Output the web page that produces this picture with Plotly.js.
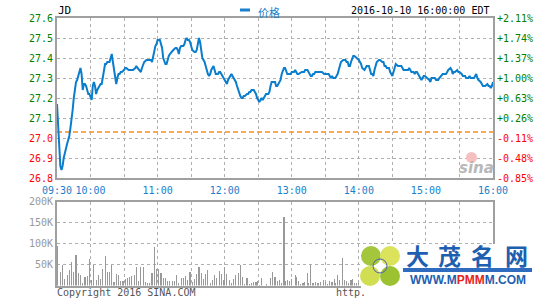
<!DOCTYPE html>
<html>
<head>
<meta charset="utf-8">
<script src="https://cdn.plot.ly/plotly-3.0.1.min.js"></script>
<style>html,body{margin:0;padding:0;background:#fff;}#chart{width:545px;height:300px;}</style>
</head>
<body>
<div id="chart"></div>
<script>
// ---- data (JD, 2016-10-10, minutes after the 09:30 open) ----
const tradeDate = "2016-10-10";
const prevClose = 27.03;

const priceMinutes = [0,1,2,3,4,5,6,7,8,9,10,11,12,13,14,15,16,17,18,19,20,21,22,23,24,25,26,27,28,29,30,31,32,33,34,35,36,37,38,39,40,41,42,43,44,45,47,48,49,50,51,52,53,54,55,56,57,58,60,61,62,64,65,67,68,70,71,72,74,75,76,77,78,80,81,83,84,85,86,87,88,89,90,92,93,94,95,96,97,98,99,100,101,103,104,106,107,108,109,110,111,113,114,115,116,117,118,119,120,121,123,124,125,126,127,128,129,130,131,132,133,134,135,136,137,138,139,140,141,142,143,144,145,146,147,148,149,150,151,152,153,154,155,156,157,158,159,160,161,162,163,164,165,166,167,168,170,171,172,173,174,176,177,178,179,180,181,182,183,184,185,186,187,189,190,191,192,193,194,195,196,197,198,199,200,201,202,203,204,205,206,208,209,210,212,213,214,215,216,218,219,220,221,222,224,225,226,227,228,229,230,231,233,234,236,237,239,240,242,243,244,245,246,247,248,249,250,251,252,253,254,256,257,258,259,260,261,262,263,264,265,266,268,269,270,271,272,273,275,276,277,278,279,280,281,282,283,284,285,286,288,289,291,292,293,294,295,297,298,299,300,301,302,303,305,306,308,309,310,311,313,314,315,316,317,319,320,321,322,323,325,326,327,328,329,331,332,333,334,335,336,338,339,341,342,344,345,347,348,349,350,352,353,354,355,356,358,359,360,362,363,365,366,368,369,370,371,373,374,375,376,377,379,380,381,382,383,385,386,387,388,389,390];
const prices = [27.17,27.05,26.92,26.86,26.84,26.86,26.90,26.93,26.95,26.97,26.99,27.01,27.05,27.09,27.14,27.20,27.25,27.28,27.29,27.31,27.34,27.35,27.32,27.24,27.27,27.27,27.26,27.23,27.22,27.22,27.20,27.19,27.26,27.28,27.26,27.22,27.24,27.25,27.26,27.27,27.27,27.31,27.35,27.37,27.37,27.38,27.38,27.40,27.42,27.38,27.34,27.30,27.27,27.30,27.32,27.32,27.33,27.33,27.34,27.35,27.35,27.34,27.34,27.34,27.34,27.35,27.36,27.35,27.34,27.33,27.35,27.37,27.38,27.39,27.39,27.39,27.39,27.38,27.41,27.44,27.46,27.47,27.49,27.49,27.47,27.45,27.40,27.38,27.37,27.37,27.40,27.41,27.42,27.43,27.44,27.45,27.45,27.44,27.42,27.45,27.46,27.46,27.47,27.49,27.50,27.49,27.49,27.48,27.46,27.44,27.43,27.43,27.44,27.47,27.50,27.48,27.43,27.40,27.39,27.38,27.36,27.33,27.32,27.31,27.32,27.34,27.35,27.36,27.34,27.32,27.32,27.32,27.33,27.33,27.32,27.31,27.30,27.29,27.28,27.27,27.29,27.30,27.31,27.32,27.31,27.30,27.29,27.28,27.26,27.24,27.22,27.21,27.20,27.20,27.21,27.21,27.22,27.22,27.23,27.23,27.24,27.24,27.23,27.22,27.20,27.19,27.18,27.19,27.20,27.19,27.20,27.21,27.22,27.22,27.23,27.26,27.28,27.28,27.28,27.28,27.26,27.26,27.27,27.28,27.29,27.32,27.34,27.35,27.35,27.33,27.32,27.32,27.32,27.33,27.33,27.34,27.33,27.32,27.32,27.33,27.33,27.33,27.33,27.34,27.34,27.33,27.32,27.31,27.31,27.32,27.32,27.33,27.33,27.33,27.33,27.33,27.32,27.32,27.32,27.32,27.31,27.30,27.31,27.30,27.30,27.30,27.31,27.32,27.34,27.36,27.38,27.39,27.39,27.39,27.38,27.38,27.36,27.36,27.38,27.40,27.41,27.41,27.40,27.40,27.39,27.38,27.37,27.35,27.34,27.35,27.36,27.36,27.36,27.34,27.32,27.32,27.31,27.34,27.37,27.38,27.39,27.39,27.38,27.38,27.36,27.36,27.35,27.35,27.33,27.32,27.31,27.33,27.36,27.37,27.36,27.36,27.36,27.35,27.34,27.34,27.34,27.34,27.35,27.34,27.33,27.33,27.32,27.33,27.33,27.32,27.30,27.29,27.30,27.31,27.31,27.30,27.30,27.29,27.28,27.30,27.30,27.30,27.29,27.29,27.30,27.31,27.32,27.32,27.32,27.33,27.34,27.35,27.34,27.32,27.33,27.33,27.34,27.33,27.33,27.32,27.31,27.31,27.30,27.30,27.31,27.30,27.30,27.30,27.31,27.32,27.30,27.29,27.28,27.27,27.26,27.26,27.26,27.27,27.26,27.26,27.25,27.26,27.28];

const volumeMinutes = [0,3,5,7,9,11,13,15,17,19,21,23,25,27,29,31,33,35,37,39,41,43,45,47,49,51,53,55,57,59,61,63,65,67,69,71,73,75,77,79,81,83,85,87,89,91,93,95,97,99,101,103,105,107,109,111,113,115,117,119,121,123,125,127,129,131,133,135,137,139,141,143,145,147,149,150,152,154,156,158,160,162,164,166,168,170,172,174,176,178,179,181,183,187,191,193,195,197,199,201,203,204,206,208,210,213,214,216,218,220,221,224,225,227,229,231,233,234,236,238,240,242,244,246,248,249,251,253,255,257,259,261,263,264,266,268,270,284];
const volumes = [93000,33000,48000,16000,24000,37000,56000,33000,73000,29000,25000,7000,21000,23000,64000,12000,49000,13000,25000,16000,40000,71000,33000,31000,49000,8000,28000,25000,10000,11000,16000,19000,21000,23000,25000,43000,11000,44000,44000,9000,6000,6000,30000,92000,40000,40000,29000,17000,19000,11000,10000,11000,11000,25000,5000,19000,19000,23000,14000,32000,8000,15000,27000,43000,29000,15000,27000,37000,6000,14000,25000,19000,35000,27000,13000,44000,28000,13000,5000,15000,25000,29000,48000,20000,3000,17000,4000,5000,8000,8000,11000,2000,17000,4000,17000,31000,20000,10000,12000,6000,164000,10000,12000,10000,16000,26000,21000,10000,4000,6000,8000,29000,6000,49000,6000,8000,6000,6000,8000,12000,8000,4000,10000,8000,16000,6000,24000,14000,65000,12000,10000,6000,12000,16000,6000,6000,6000,102000];

const priceTicks = [26.8,26.9,27.0,27.1,27.2,27.3,27.4,27.5,27.6];
const priceTickLabels = ["26.8","26.9","27.0","27.1","27.2","27.3","27.4","27.5","27.6"];
const pctTickLabels = ["-0.85%","-0.48%","-0.11%","+0.26%","+0.63%","+1.00%","+1.37%","+1.74%","+2.11%"];
const timeTickMinutes = [0,30,60,90,120,150,180,210,240,270,300,330,360,390];
const timeTickLabels = ["09:30","10:00","","11:00","","12:00","","13:00","","14:00","","15:00","","16:00"];
const volTicks = [50000,100000,150000,200000];
const volTickLabels = ["50K","100K","150K","200K"];

// ---- helpers ----
function pad(n){return (n<10?"0":"")+n;}
function toTime(m){const t=9*60+30+m;return tradeDate+" "+pad(Math.floor(t/60))+":"+pad(t%60)+":00";}
const GREEN="#008000", RED="#ff0000", BLUE="#1a7fcc";
function colored(lbl, v){return '<span style="color:'+(v>prevClose?GREEN:RED)+'">'+lbl+'</span>';}

const W=545,H=300;
const px=x=>x/W, py=y=>1-y/H;
const mono="DejaVu Sans Mono, monospace";

const xRange=[toTime(0),toTime(390)];
const xDomain=[px(57),px(493)];
const priceTimes=priceMinutes.map(toTime);

const traces=[
 {type:"scatter",mode:"lines",x:priceTimes,y:prices,xaxis:"x",yaxis:"y",
  line:{color:"#0a7dcd",width:2},name:"价格",hoverinfo:"skip"},
 // same series on the percent axis (invisible) so the right-hand axis is drawn
 {type:"scatter",mode:"lines",x:priceTimes,y:prices,xaxis:"x",yaxis:"y3",
  line:{color:"rgba(0,0,0,0)",width:0},hoverinfo:"skip",showlegend:false},
 {type:"bar",x:volumeMinutes.map(toTime),y:volumes,xaxis:"x2",yaxis:"y2",
  width:60000,marker:{color:"#999999",line:{width:0}},hoverinfo:"skip"}
];

const gridCommon={showgrid:true,gridcolor:"#b0b0b0",gridwidth:1,griddash:"dot",zeroline:false,
  showline:true,mirror:true,linecolor:"#a0a0a0",linewidth:2,ticks:"",fixedrange:true};

const layout={
 width:W,height:H,margin:{l:0,r:0,t:0,b:0},paper_bgcolor:"#fff",plot_bgcolor:"#fff",showlegend:false,
 bargap:0,
 xaxis:Object.assign({},gridCommon,{domain:xDomain,anchor:"y",type:"date",range:xRange,
   tickmode:"array",tickvals:timeTickMinutes.map(toTime),ticktext:timeTickLabels,
   tickfont:{family:mono,size:10,color:BLUE},ticklabelstandoff:2}),
 yaxis:Object.assign({},gridCommon,{domain:[py(178),py(18)],anchor:"x",range:[26.8,27.6],
   tickmode:"array",tickvals:priceTicks,ticktext:priceTickLabels.map((l,i)=>colored(l,priceTicks[i])),
   tickfont:{family:mono,size:10}}),
 yaxis3:{overlaying:"y",side:"right",anchor:"x",range:[26.8,27.6],showgrid:false,zeroline:false,showline:false,ticks:"",
   tickmode:"array",tickvals:priceTicks,ticktext:pctTickLabels.map((l,i)=>colored(l,priceTicks[i])),
   tickfont:{family:mono,size:10},ticklabelstandoff:3,fixedrange:true},
 xaxis2:Object.assign({},gridCommon,{domain:xDomain,anchor:"y2",type:"date",range:xRange,
   tickmode:"array",tickvals:timeTickMinutes.map(toTime),showticklabels:false}),
 yaxis2:Object.assign({},gridCommon,{domain:[py(285.5),py(201.5)],anchor:"x2",range:[0,200000],
   tickmode:"array",tickvals:volTicks,ticktext:volTickLabels,
   tickfont:{family:mono,size:10,color:"#999999"}}),
 shapes:[
  {type:"line",xref:"x",yref:"y",x0:toTime(0),x1:toTime(390),y0:prevClose,y1:prevClose,layer:"between",
   line:{color:"#ff8c1a",width:1.5,dash:"5px,3px"}},
  {type:"line",xref:"paper",yref:"paper",x0:px(240),x1:px(250),y0:py(10),y1:py(10),line:{color:BLUE,width:3}},
  // sina watermark eye
  {type:"circle",xref:"paper",yref:"paper",x0:px(466),x1:px(477),y0:py(163),y1:py(152),fillcolor:"#f6c0c0",line:{width:0},layer:"above"},
  // 大茂名网 watermark
  {type:"rect",xref:"paper",yref:"paper",x0:px(361),x1:1,y0:py(294),y1:py(244),fillcolor:"#ffffff",line:{width:0},layer:"above"},
  {type:"circle",xref:"paper",yref:"paper",x0:px(361),x1:px(381),y0:py(266),y1:py(246),fillcolor:"#a3c63c",line:{width:0}},
  {type:"circle",xref:"paper",yref:"paper",x0:px(380),x1:px(400),y0:py(266),y1:py(246),fillcolor:"#dbe35c",line:{width:0}},
  {type:"circle",xref:"paper",yref:"paper",x0:px(360),x1:px(380),y0:py(286),y1:py(266),fillcolor:"#d2de52",line:{width:0}},
  {type:"circle",xref:"paper",yref:"paper",x0:px(380),x1:px(400),y0:py(286),y1:py(266),fillcolor:"#9cc232",line:{width:0}},
  {type:"circle",xref:"paper",yref:"paper",x0:px(373),x1:px(387),y0:py(273),y1:py(259),line:{color:"#4b5fa8",width:1}},
  {type:"rect",xref:"paper",yref:"paper",x0:px(403),x1:px(532),y0:py(272),y1:py(268),fillcolor:"#2f6cc0",line:{width:0}}
 ],
 annotations:[
  {xref:"paper",yref:"paper",x:px(56),y:py(11),xanchor:"left",yanchor:"middle",showarrow:false,text:"JD",font:{family:mono,size:11,color:"#000"}},
  {xref:"paper",yref:"paper",x:px(256),y:py(12),xanchor:"left",yanchor:"middle",showarrow:false,text:"价格",font:{family:"Noto Sans CJK SC",size:11,color:BLUE}},
  {xref:"paper",yref:"paper",x:px(491),y:py(11),xanchor:"right",yanchor:"middle",showarrow:false,text:"2016-10-10 16:00:00 EDT",font:{family:mono,size:10,color:"#000"}},
  {xref:"paper",yref:"paper",x:px(55),y:py(292),xanchor:"left",yanchor:"middle",showarrow:false,text:"Copyright 2016 SINA.COM",font:{family:mono,size:10,color:"#555"}},
  {xref:"paper",yref:"paper",x:px(334),y:py(292),xanchor:"left",yanchor:"middle",showarrow:false,text:"http.",font:{family:mono,size:10,color:"#555"}},
  {xref:"paper",yref:"paper",x:px(476),y:py(168),xanchor:"center",yanchor:"middle",showarrow:false,text:"<b><i>sina</i></b>",font:{family:"DejaVu Sans",size:15,color:"#b8b8b8"}},
  {xref:"paper",yref:"paper",x:px(417),y:py(255),xanchor:"center",yanchor:"middle",showarrow:false,text:"<b>大</b>",font:{family:"Noto Sans CJK SC",size:23,color:"#1f5fb0"}},
  {xref:"paper",yref:"paper",x:px(449),y:py(255),xanchor:"center",yanchor:"middle",showarrow:false,text:"<b>茂</b>",font:{family:"Noto Sans CJK SC",size:23,color:"#1f5fb0"}},
  {xref:"paper",yref:"paper",x:px(482),y:py(255),xanchor:"center",yanchor:"middle",showarrow:false,text:"<b>名</b>",font:{family:"Noto Sans CJK SC",size:23,color:"#1f5fb0"}},
  {xref:"paper",yref:"paper",x:px(516),y:py(255),xanchor:"center",yanchor:"middle",showarrow:false,text:"<b>网</b>",font:{family:"Noto Sans CJK SC",size:23,color:"#1f5fb0"}},
  {xref:"paper",yref:"paper",x:px(468),y:py(280),xanchor:"center",yanchor:"middle",showarrow:false,
   text:'<b>WWW.M<span style="color:#e8231c">PMM</span>M.COM</b>',font:{family:"Liberation Sans",size:12,color:"#1f5fb0"}}
 ]
};

Plotly.newPlot("chart",traces,layout,{staticPlot:true,displayModeBar:false});
</script>
</body>
</html>
